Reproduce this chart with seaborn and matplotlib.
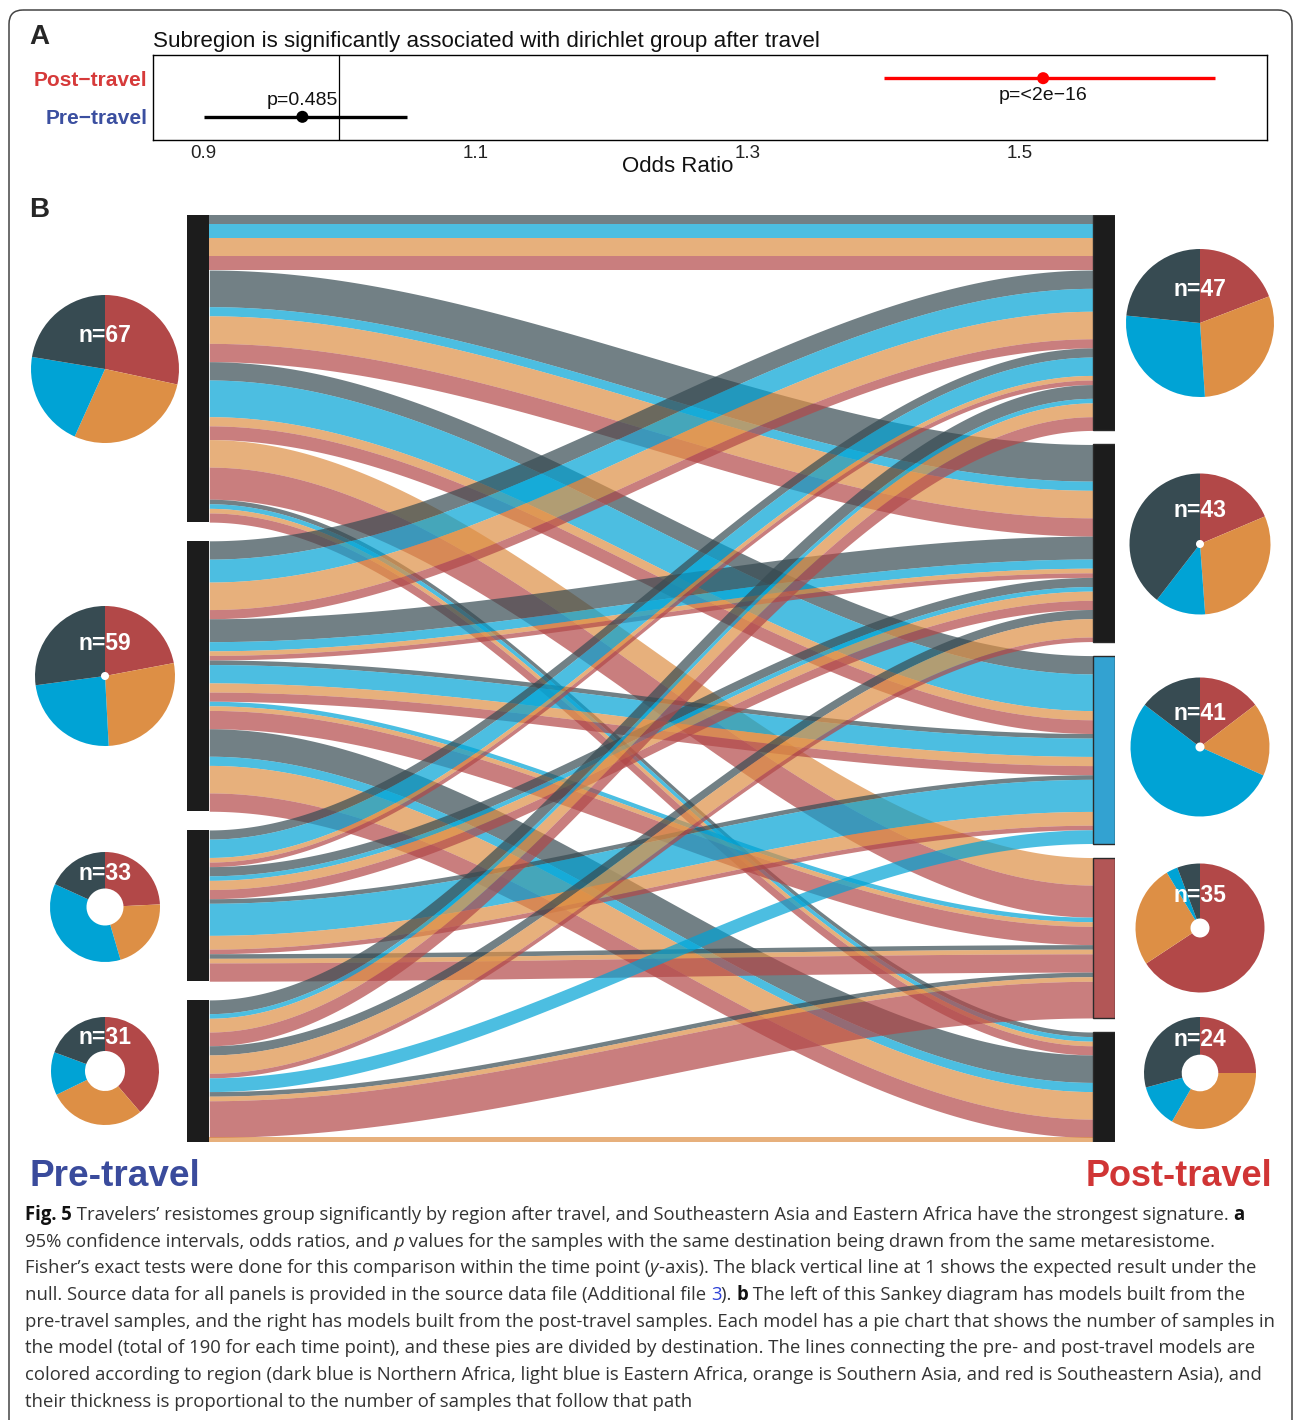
import numpy as np
import pandas as pd
import matplotlib
matplotlib.use('Agg')
import matplotlib.pyplot as plt
import seaborn as sns
from matplotlib import font_manager
from matplotlib.patches import FancyBboxPatch, Rectangle

# ---- panel A: odds ratios ----
time_points = ['Pre\u2212travel', 'Post\u2212travel']
odds_ratio = [0.973, 1.517]
ci_low = [0.901, 1.400]
ci_high = [1.050, 1.643]
p_labels = ['p=0.485', 'p=<2e\u221216']
or_ticks = [0.9, 1.1, 1.3, 1.5]

# ---- panel B: samples per (pre model, post model) for each destination region ----
regions = ['Northern Africa', 'Eastern Africa', 'Southern Asia', 'Southeastern Asia']
# rows = pre-travel models (top to bottom), cols = post-travel models (top to bottom)
flows_northern_africa = [[2, 8, 4, 0, 1],
                         [4, 5, 1, 0, 6],
                         [2, 2, 1, 1, 0],
                         [3, 2, 0, 1, 0]]
flows_eastern_africa = [[3, 2, 8, 0, 1],
                        [5, 2, 4, 1, 2],
                        [4, 1, 7, 0, 0],
                        [1, 0, 3, 0, 0]]
flows_southern_asia = [[4, 6, 2, 6, 1],
                       [6, 1, 2, 1, 6],
                       [1, 2, 3, 1, 0],
                       [3, 4, 0, 1, 1]]
flows_southeastern_asia = [[3, 4, 3, 7, 2],
                           [2, 1, 2, 4, 4],
                           [1, 2, 1, 4, 0],
                           [3, 1, 0, 8, 0]]

region_colors = ['#374b52', '#00a3d5', '#dd8f45', '#b24848']
post_bar_colors = ['#1c1c1c', '#1c1c1c', '#33a2d1', '#b25656', '#1c1c1c']

caption_lines = [
    [('Fig. 5', 'b'), (' Travelers\u2019 resistomes group significantly by region after travel, and Southeastern Asia and Eastern Africa have the strongest signature. ', 'n'), ('a', 'b')],
    [('95% confidence intervals, odds ratios, and ', 'n'), ('p', 'i'), (' values for the samples with the same destination being drawn from the same metaresistome.', 'n')],
    [('Fisher\u2019s exact tests were done for this comparison within the time point (', 'n'), ('y', 'i'), ('-axis). The black vertical line at 1 shows the expected result under the', 'n')],
    [('null. Source data for all panels is provided in the source data file (Additional file ', 'n'), ('3', 'link'), ('). ', 'n'), ('b', 'b'), (' The left of this Sankey diagram has models built from the', 'n')],
    [('pre-travel samples, and the right has models built from the post-travel samples. Each model has a pie chart that shows the number of samples in', 'n')],
    [('the model (total of 190 for each time point), and these pies are divided by destination. The lines connecting the pre- and post-travel models are', 'n')],
    [('colored according to region (dark blue is Northern Africa, light blue is Eastern Africa, orange is Southern Asia, and red is Southeastern Asia), and', 'n')],
    [('their thickness is proportional to the number of samples that follow that path', 'n')],
]

sns.set_style('white')
installed = {f.name for f in font_manager.fontManager.ttflist}
narrow = 'Liberation Sans Narrow' if 'Liberation Sans Narrow' in installed else 'Liberation Sans'
plt.rcParams['font.family'] = ['Liberation Sans', 'DejaVu Sans']

W, H = 1293, 1420
fig = plt.figure(figsize=(W / 100, H / 100), dpi=100)
renderer = fig.canvas.get_renderer()


def px_rect(x0, y0, x1, y1):
    return [x0 / W, 1 - y1 / H, (x1 - x0) / W, (y1 - y0) / H]


canvas = fig.add_axes([0, 0, 1, 1])
canvas.set_xlim(0, W)
canvas.set_ylim(H, 0)
canvas.axis('off')
canvas.add_patch(FancyBboxPatch((9, 10), 1283, 1425, boxstyle='round,pad=0,rounding_size=14',
                                fc='none', ec='#444444', lw=1.1))


def fit_width(t, width):
    w = t.get_window_extent(renderer).width
    t.set_fontsize(t.get_fontsize() * width / w)


# ---------------- Panel A ----------------
canvas.text(29, 37, 'A', fontsize=20, fontweight='bold', va='center')
canvas.text(29, 210, 'B', fontsize=20, fontweight='bold', va='center')

or_df = pd.DataFrame({'time': time_points, 'odds': odds_ratio, 'lo': ci_low,
                      'hi': ci_high, 'p': p_labels})
or_df['ypos'] = np.arange(1, len(or_df) + 1)
time_colors = {time_points[0]: 'black', time_points[1]: '#ff0000'}
label_colors = {time_points[0]: '#3b4fa0', time_points[1]: '#d63a3a'}

ax_a = fig.add_axes(px_rect(153, 55, 1267, 140))
ax_a.hlines(or_df['ypos'], or_df['lo'], or_df['hi'],
            colors=[time_colors[t] for t in or_df['time']], lw=2.4, zorder=2)
sns.scatterplot(data=or_df, x='odds', y='ypos', hue='time', palette=time_colors,
                s=75, edgecolor='none', legend=False, zorder=3, ax=ax_a)
ax_a.axvline(1.0, color='black', lw=0.9, zorder=1)
for _, row in or_df.iterrows():
    dy = 0.42 if row['time'] == time_points[0] else -0.44
    ax_a.text(row['odds'], row['ypos'] + dy, row['p'], ha='center', va='center',
              fontsize=14, color='#111111')
ax_a.set_xlim(0.8633, 1.6814)
ax_a.set_ylim(0.4, 2.6)
ax_a.set_xticks(or_ticks, labels=[f'{v:.1f}' for v in or_ticks])
ax_a.set_yticks(or_df['ypos'], labels=or_df['time'])
ax_a.set_xlabel('')
ax_a.set_ylabel('')
ax_a.tick_params(axis='x', length=2.5, width=0.8, pad=1, labelsize=13.5, colors='#222222')
ax_a.tick_params(axis='y', length=2.5, width=0.8, pad=1.5, labelsize=15)
for tl in ax_a.get_yticklabels():
    tl.set_color(label_colors[tl.get_text()])
    tl.set_fontweight('bold')
for sp in ax_a.spines.values():
    sp.set_visible(True)
    sp.set_color('black')
    sp.set_linewidth(1.0)

title = canvas.text(153, 41, 'Subregion is significantly associated with dirichlet group after travel',
                    fontsize=15, va='center', ha='left', color='#111111')
fit_width(title, 665)
canvas.text(678, 167, 'Odds Ratio', fontsize=16, ha='center', va='center', color='#111111')

# ---------------- Panel B: Sankey ----------------
flows = np.array([flows_northern_africa, flows_eastern_africa,
                  flows_southern_asia, flows_southeastern_asia])  # region, pre, post
n_reg, n_pre, n_post = flows.shape
pre_n = flows.sum(axis=(0, 2))
post_n = flows.sum(axis=(0, 1))

gap_pre = 4.08
total = pre_n.sum() + (n_pre - 1) * gap_pre
gap_post = (total - post_n.sum()) / (n_post - 1)

left_top, right_top = {}, {}
pre_start, post_start = [], []
y = 0.0
for i in range(n_pre):
    pre_start.append(y)
    for j in range(n_post):
        for r in range(n_reg):
            left_top[i, j, r] = y
            y += flows[r, i, j]
    y += gap_pre
y = 0.0
for j in range(n_post):
    post_start.append(y)
    for i in range(n_pre):
        for r in range(n_reg):
            right_top[i, j, r] = y
            y += flows[r, i, j]
    y += gap_post

ax_b = fig.add_axes(px_rect(187, 215, 1115, 1142))
ax_b.set_xlim(0, 1)
ax_b.set_ylim(total, 0)
ax_b.axis('off')

bw = 22.3 / 928
xs = np.linspace(bw, 1 - bw, 300)
t = (xs - bw) / (1 - 2 * bw)
s = t * t * (3 - 2 * t)
for i in range(n_pre):
    for j in range(n_post):
        for r in range(n_reg):
            c = flows[r, i, j]
            if c == 0:
                continue
            y0, y1 = left_top[i, j, r], right_top[i, j, r]
            top = y0 + (y1 - y0) * s
            ax_b.fill_between(xs, top, top + c, color=region_colors[r], alpha=0.7,
                              lw=0, zorder=2)

for i in range(n_pre):
    ax_b.add_patch(Rectangle((0, pre_start[i]), bw, pre_n[i], fc='#1c1c1c', ec='none', zorder=3))
for j in range(n_post):
    ax_b.add_patch(Rectangle((1 - bw, post_start[j]), bw, post_n[j], fc=post_bar_colors[j],
                             ec='#2a2a2a', lw=1.0, zorder=3))

# pies: per model composition by region, clockwise from 12 o'clock (SE Asia first)
pre_comp = flows.sum(axis=2).T   # pre, region
post_comp = flows.sum(axis=1).T  # post, region
pre_pies = [(105, 369, 74, 0), (105, 676, 70, 4), (105, 907, 55, 18.5), (105, 1071, 54, 20)]
post_pies = [(1200, 323, 74, 0), (1200, 544, 70.5, 4), (1200, 747, 69.5, 4.5),
             (1200, 928, 64.5, 9.5), (1200, 1073, 56, 18.3)]


def draw_pie(geom, counts):
    cx, cy, r, hole = geom
    pax = fig.add_axes(px_rect(cx - r, cy - r, cx + r, cy + r))
    wp = dict(linewidth=0)
    if hole > 0:
        wp['width'] = 1 - hole / r
    pax.pie(counts[::-1], colors=region_colors[::-1], startangle=90, counterclock=False,
            radius=1, wedgeprops=wp)
    pax.set_xlim(-1, 1)
    pax.set_ylim(-1, 1)
    pax.set_aspect('equal')
    pax.axis('off')
    pax.text(0, 33 / r, f'n={int(np.sum(counts))}', ha='center', va='center', color='white',
             fontsize=16.5, fontweight='bold')


for geom, comp in zip(pre_pies, pre_comp):
    draw_pie(geom, comp)
for geom, comp in zip(post_pies, post_comp):
    draw_pie(geom, comp)

big_pre = canvas.text(30, 1177, 'Pre-travel', fontsize=28, fontweight='bold', color='#3a4b9c',
                      ha='left', va='center', family=[narrow, 'Liberation Sans'])
fit_width(big_pre, 170)
big_post = canvas.text(1272, 1177, 'Post-travel', fontsize=28, fontweight='bold', color='#d03535',
                       ha='right', va='center', family=[narrow, 'Liberation Sans'])
fit_width(big_post, 187)

# ---------------- caption ----------------
cap_styles = {
    'n': dict(color='#333333'),
    'b': dict(color='#111111', fontweight='bold'),
    'i': dict(color='#333333', fontstyle='italic'),
    'link': dict(color='#2b3fd6'),
}


def seg_width(text, props, size):
    a = canvas.text(0, 0, text + '|', fontsize=size, family='Open Sans', **props)
    b = canvas.text(0, 0, '|', fontsize=size, family='Open Sans', **props)
    w = a.get_window_extent(renderer).width - b.get_window_extent(renderer).width
    a.remove()
    b.remove()
    return w


def draw_line(segments, x, y, size):
    for text, style in segments:
        props = cap_styles[style]
        canvas.text(x, y, text, fontsize=size, family='Open Sans', ha='left', va='center', **props)
        x += seg_width(text, props, size)


base = 12.0
w1 = sum(seg_width(tx, cap_styles[st], base) for tx, st in caption_lines[0])
cap_size = base * 1215 / w1
line_y = [1215, 1242, 1268, 1295, 1322, 1348, 1375, 1402]
for segs, ly in zip(caption_lines, line_y):
    draw_line(segs, 25, ly, cap_size)

fig.savefig('out.png', dpi=100)
